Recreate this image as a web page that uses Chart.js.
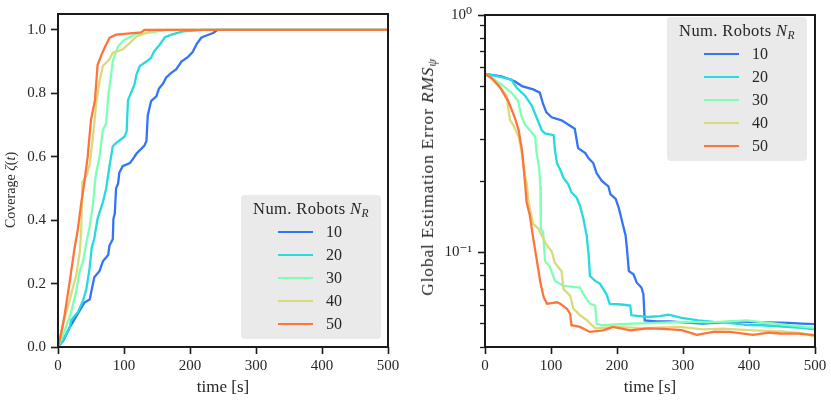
<!DOCTYPE html>
<html><head><meta charset="utf-8">
<script src="https://cdn.jsdelivr.net/npm/chart.js@4/dist/chart.umd.min.js"></script>
<style>
html,body{margin:0;padding:0;background:#fff;}
#wrap{position:relative;width:831px;height:400px;overflow:hidden;font-family:"Liberation Serif","DejaVu Serif",serif;color:#262626;}
canvas{position:absolute;top:0;}
#c1{left:0;} #c2{left:415px;}
.ytitle{position:absolute;white-space:nowrap;line-height:20px;transform:translate(-50%,-50%) rotate(-90deg);}
.ytitle sub{font-size:70%;vertical-align:-3px;line-height:0;}
.legend{position:absolute;background:#eaeaea;border-radius:4px;width:140px;height:144px;}
.legend .ttl{position:absolute;left:0;right:0;top:4px;line-height:20px;text-align:center;font-size:16.5px;letter-spacing:0.4px;white-space:nowrap;}
.legend .ttl sub{font-size:70%;vertical-align:-3px;line-height:0;}
.legend .sw{position:absolute;left:37px;width:35px;height:2.6px;}
.legend .lb{position:absolute;left:85px;font-size:16px;line-height:18px;}
</style>
</head><body>
<div id="wrap">
<canvas id="c1" width="415" height="400"></canvas>
<canvas id="c2" width="416" height="400"></canvas>
</div>
<script>
// ---------- data ----------
const seriesLabels = ['10','20','30','40','50'];
const seriesColors = ['#3374f8','#26dade','#80ffb4','#d9da7c','#ff743b'];
const xTicks = [0,100,200,300,400,500];
const covTicks = [0,0.2,0.4,0.6,0.8,1.0];
const rmsMajorTicks = [0.1,1];
const rmsMinorTicks = [0.04,0.05,0.06,0.07,0.08,0.09,0.2,0.3,0.4,0.5,0.6,0.7,0.8,0.9];

// coverage zeta(t)
const cov10T = [0,8,15,20,30,40,48,52,55,63,68,76,78,83,84,86,88,91,93,98,109,116,119,131,134,136,141,149,153,159,164,172,179,187,197,204,210,217,222,235,242,500];
const cov10V = [0,0.02,0.05,0.07,0.105,0.14,0.15,0.19,0.22,0.24,0.27,0.29,0.32,0.34,0.405,0.42,0.5,0.515,0.55,0.57,0.58,0.6,0.61,0.635,0.65,0.73,0.775,0.79,0.815,0.83,0.85,0.865,0.875,0.9,0.915,0.93,0.955,0.975,0.98,0.99,1.0,1.0];
const cov20T = [0,5,13,18,20,30,38,43,48,51,55,60,68,73,78,83,88,101,104,106,111,116,119,124,134,141,146,154,162,172,189,220,500];
const cov20V = [0,0.012,0.043,0.064,0.085,0.11,0.147,0.183,0.25,0.312,0.343,0.405,0.457,0.5,0.57,0.633,0.643,0.664,0.68,0.778,0.803,0.829,0.86,0.886,0.9,0.912,0.933,0.953,0.977,0.985,0.995,1.0,1.0];
const cov30T = [0,10,20,27,33,38,43,48,53,56,58,63,68,73,76,78,83,86,91,101,106,116,144,164,500];
const cov30V = [0,0.05,0.11,0.17,0.24,0.27,0.33,0.38,0.45,0.52,0.55,0.6,0.685,0.705,0.79,0.82,0.9,0.92,0.948,0.969,0.974,0.985,0.993,1.0,1.0];
const cov40T = [0,5,10,18,28,33,35,37,43,48,53,58,63,68,78,83,98,109,119,134,149,500];
const cov40V = [0,0.05,0.09,0.15,0.23,0.3,0.36,0.52,0.54,0.575,0.664,0.77,0.84,0.886,0.907,0.928,0.938,0.959,0.979,0.99,1.0,1.0];
const cov50T = [0,5,10,18,25,30,35,40,45,50,56,60,66,71,78,88,126,131,500];
const cov50V = [0,0.045,0.1,0.21,0.31,0.37,0.45,0.52,0.6,0.716,0.778,0.89,0.922,0.945,0.975,0.985,0.992,1.0,1.0];

// global estimation error RMS_psi
const rms10T = [0,25,45,56,73,83,88,93,101,116,126,136,141,152,157,164,169,177,187,190,198,203,208,213,215,218,225,230,237,240,242,260,280,300,330,360,380,400,430,460,480,500];
const rms10V = [0.565,0.552,0.526,0.502,0.486,0.471,0.422,0.389,0.371,0.36,0.346,0.332,0.275,0.262,0.249,0.238,0.216,0.2,0.19,0.176,0.168,0.153,0.134,0.118,0.104,0.0834,0.081,0.0746,0.0712,0.0668,0.0518,0.0513,0.0513,0.0508,0.0502,0.0508,0.0513,0.051,0.0508,0.0505,0.0502,0.0499];
const rms20T = [0,20,40,48,61,71,78,86,91,104,106,109,114,119,126,131,139,144,149,154,157,159,167,174,184,189,207,220,222,247,265,278,298,323,346,370,399,421,450,480,500];
const rms20V = [0.565,0.552,0.535,0.494,0.456,0.415,0.371,0.327,0.317,0.312,0.27,0.238,0.223,0.206,0.194,0.179,0.17,0.157,0.139,0.118,0.098,0.0796,0.0759,0.074,0.0668,0.0608,0.0604,0.0598,0.0544,0.0535,0.054,0.0547,0.053,0.0518,0.051,0.0505,0.0495,0.0494,0.0488,0.0482,0.0475];
const rms30T = [0,2.5,25,40,50,55,60,68,76,78,82,84,84.5,88,91,98,106,119,144,149,159,167,169,177,200,222,260,298,340,370,396,430,460,500];
const rms30V = [0.565,0.561,0.51,0.471,0.435,0.377,0.348,0.327,0.307,0.266,0.227,0.19,0.126,0.122,0.092,0.0875,0.0759,0.0724,0.0712,0.0668,0.0608,0.0598,0.0502,0.0494,0.0498,0.0502,0.0505,0.051,0.0508,0.0513,0.0518,0.0505,0.0495,0.0481];
const rms40T = [0,12,22,33,35,38,40,43,51,56,60,63,66,68,73,81,93,101,106,116,119,129,134,144,154,167,197,240,295,330,360,406,450,480,500];
const rms40V = [0.565,0.535,0.502,0.456,0.408,0.36,0.355,0.343,0.307,0.262,0.213,0.197,0.163,0.153,0.132,0.126,0.108,0.101,0.0903,0.0834,0.0701,0.0658,0.058,0.0544,0.052,0.0479,0.0486,0.048,0.0486,0.0475,0.0478,0.047,0.0465,0.0458,0.0442];
const rms50T = [0,10,23,35,45,51,56,58,60.6,63,68,73,78,84,89,94,109,114,124,129,131,144,159,179,194,220,247,270,298,321,348,371,406,430,447,475,500];
const rms50V = [0.565,0.543,0.494,0.435,0.371,0.327,0.27,0.238,0.197,0.163,0.143,0.115,0.0947,0.0745,0.0647,0.0608,0.0617,0.0608,0.058,0.0552,0.0494,0.0486,0.0463,0.047,0.0486,0.047,0.0479,0.0477,0.0471,0.045,0.0464,0.0463,0.045,0.046,0.0456,0.0455,0.0449];

const covSeries = [[cov10T,cov10V],[cov20T,cov20V],[cov30T,cov30V],[cov40T,cov40V],[cov50T,cov50V]];
const rmsSeries = [[rms10T,rms10V],[rms20T,rms20V],[rms30T,rms30V],[rms40T,rms40V],[rms50T,rms50V]];

// ---------- charts ----------
const FONT = '"Liberation Serif","DejaVu Serif",serif';
const TXT = '#262626';
Chart.defaults.font.family = FONT;
Chart.defaults.color = TXT;

function makeDatasets(series){
  return series.map((s,i)=>({
    label: seriesLabels[i],
    data: s[0].map((t,j)=>({x:t,y:s[1][j]})),
    borderColor: seriesColors[i],
    backgroundColor: seriesColors[i],
    borderWidth: 2.3,
    pointRadius: 0,
    tension: 0,
    fill: false,
    order: series.length - i
  }));
}
const framePlugin = {id:'frame', afterDraw(chart){
  const {ctx, chartArea:a} = chart;
  ctx.save(); ctx.strokeStyle = '#1a1a1a'; ctx.lineWidth = 2;
  ctx.strokeRect(a.left, a.top, a.right-a.left, a.bottom-a.top); ctx.restore();
}};
function xScale(){
  return {
    type:'linear', min:0, max:500,
    afterBuildTicks: s => { s.ticks = xTicks.map(v=>({value:v})); },
    afterFit: s => { s.height = 53; },
    ticks:{font:{size:15}, color:TXT, padding:3, maxRotation:0},
    grid:{drawOnChartArea:false, drawTicks:true, tickLength:7, tickWidth:1.6, tickColor:'#1a1a1a'},
    border:{display:false},
    title:{display:true, text:'time [s]', font:{size:17}, color:TXT, padding:{top:0,bottom:2}}
  };
}

new Chart(document.getElementById('c1'), {
  type:'line',
  data:{datasets: makeDatasets(covSeries)},
  options:{
    responsive:false, animation:false, devicePixelRatio:1,
    layout:{padding:{top:9,right:27,left:0,bottom:0}},
    plugins:{legend:{display:false}, tooltip:{enabled:false}},
    scales:{
      x: xScale(),
      y:{
        type:'linear', min:0, max:1.05,
        afterBuildTicks: s => { s.ticks = covTicks.map(v=>({value:v})); },
        afterFit: s => { s.width = 58; },
        ticks:{font:{size:15}, color:TXT, padding:5, callback:v=>Number(v).toFixed(1)},
        grid:{drawOnChartArea:false, drawTicks:true, tickLength:7, tickWidth:1.6, tickColor:'#1a1a1a'},
        border:{display:false}
      }
    }
  },
  plugins:[framePlugin]
});

new Chart(document.getElementById('c2'), {
  type:'line',
  data:{datasets: makeDatasets(rmsSeries)},
  options:{
    responsive:false, animation:false, devicePixelRatio:1,
    layout:{padding:{top:9,right:16,left:0,bottom:0}},
    plugins:{legend:{display:false}, tooltip:{enabled:false}},
    scales:{
      x: xScale(),
      y:{
        type:'logarithmic', min:0.04, max:1, weight:1,
        afterBuildTicks: s => { s.ticks = rmsMajorTicks.map(v=>({value:v, major:true})); },
        afterFit: s => { s.width = 70; },
        ticks:{font:{size:15}, color:TXT, padding:6,
          callback:v => Math.abs(v-1)<1e-9 ? '10\u2070' : (Math.abs(v-0.1)<1e-9 ? '10\u207B\u00B9' : '')},
        grid:{drawOnChartArea:false, drawTicks:true, tickLength:7, tickWidth:1.6, tickColor:'#1a1a1a'},
        border:{display:false}
      },
      yMinor:{
        type:'logarithmic', position:'left', min:0.04, max:1, weight:0,
        afterBuildTicks: s => { s.ticks = rmsMinorTicks.map(v=>({value:v})); },
        afterFit: s => { s.width = 0; },
        ticks:{display:false},
        grid:{drawOnChartArea:false, drawTicks:true, tickLength:5, tickWidth:1.3, tickColor:'#1a1a1a'},
        border:{display:false}
      }
    }
  },
  plugins:[framePlugin]
});

// ---------- legends & y titles (HTML text) ----------
const wrap = document.getElementById('wrap');
function addLegend(left, top){
  const box = document.createElement('div');
  box.className = 'legend'; box.style.left = left+'px'; box.style.top = top+'px';
  const t = document.createElement('div'); t.className='ttl';
  t.innerHTML = 'Num. Robots <i>N</i><sub><i>R</i></sub>';
  box.appendChild(t);
  seriesLabels.forEach((lab,i)=>{
    const cy = 37 + i*23;
    const sw = document.createElement('div'); sw.className='sw';
    sw.style.top = (cy-1.3)+'px'; sw.style.background = seriesColors[i];
    const lb = document.createElement('div'); lb.className='lb';
    lb.style.top = (cy-9)+'px'; lb.textContent = lab;
    box.appendChild(sw); box.appendChild(lb);
  });
  wrap.appendChild(box);
}
addLegend(241,195);
addLegend(667,17);
function addYTitle(x,y,html,size,ls){
  const d = document.createElement('div'); d.className='ytitle';
  d.style.left = x+'px'; d.style.top = y+'px'; d.style.fontSize = size+'px';
  d.style.letterSpacing = ls+'px'; d.innerHTML = html;
  wrap.appendChild(d);
}
addYTitle(11,190,'Coverage <i>ζ</i>(<i>t</i>)',14,0);
addYTitle(427,177,'Global Estimation Error <i>RMS</i><sub><i>ψ</i></sub>',17.5,0.8);
</script>
</body></html>
